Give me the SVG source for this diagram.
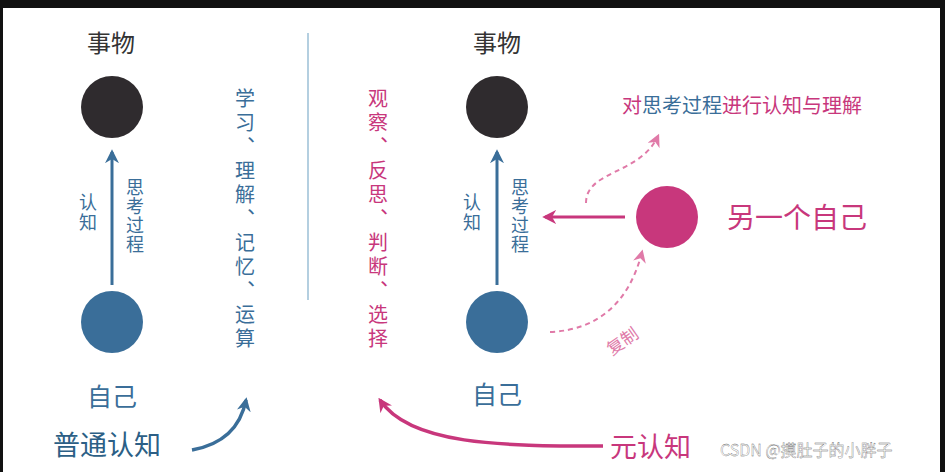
<svg xmlns="http://www.w3.org/2000/svg" width="945" height="472" viewBox="0 0 945 472">
<defs>
<style>
text{font-family:"Noto Sans CJK SC","Noto Sans",sans-serif}
.dk{fill:#333}
.bl{fill:#3a6e99}
.pk{fill:#c8377c}
.lp{fill:#e07aa8}
.vt{writing-mode:vertical-rl;font-size:20px;letter-spacing:4px}
</style>
<marker id="ab" viewBox="0 0 10 10" refX="8" refY="5" markerWidth="14" markerHeight="14" orient="auto" markerUnits="userSpaceOnUse"><path d="M0,0 L10,5 L0,10 L3,5z" fill="#3a6e99"/></marker>
<marker id="ap" viewBox="0 0 10 10" refX="8" refY="5" markerWidth="14" markerHeight="14" orient="auto" markerUnits="userSpaceOnUse"><path d="M0,0 L10,5 L0,10 L3,5z" fill="#c8377c"/></marker>
<marker id="al" viewBox="0 0 10 10" refX="8" refY="5" markerWidth="13" markerHeight="13" orient="auto" markerUnits="userSpaceOnUse"><path d="M0,0 L10,5 L0,10 L3,5z" fill="#e07aa8"/></marker>
</defs>
<rect width="945" height="472" fill="#111"/>
<rect x="3" y="8" width="937" height="464" fill="#fff"/>
<line x1="308" y1="33" x2="308" y2="300" stroke="#9bbfd6" stroke-width="1.5"/>
<g id="left-thing"><text x="111" y="52" font-size="24" text-anchor="middle" class="dk">事物</text><circle cx="112" cy="107" r="31" fill="#2f2b2e"/></g>
<g id="left-self"><circle cx="112" cy="322" r="31" fill="#3a6e99"/><text x="112" y="406" font-size="25" text-anchor="middle" class="bl">自己</text></g>
<g id="right-thing"><text x="497" y="52" font-size="24" text-anchor="middle" class="dk">事物</text><circle cx="497" cy="107" r="31" fill="#2f2b2e"/></g>
<g id="right-self"><circle cx="497" cy="322" r="31" fill="#3a6e99"/><text x="497" y="404" font-size="25" text-anchor="middle" class="bl">自己</text></g>
<g id="other-self"><circle cx="667" cy="217" r="31" fill="#c8377c"/><text x="727" y="228" font-size="28" class="pk">另一个自己</text></g>
<g id="labels">
<text x="88" y="193" class="bl vt" style="font-size:18px;letter-spacing:2px">认知</text>
<text x="135" y="178" class="bl vt" style="font-size:18px;letter-spacing:1px">思考过程</text>
<text x="472" y="193" class="bl vt" style="font-size:18px;letter-spacing:2px">认知</text>
<text x="520" y="178" class="bl vt" style="font-size:18px;letter-spacing:1px">思考过程</text>
<text x="245" y="88" class="bl vt">学习、理解、记忆、运算</text>
<text x="378" y="88" class="pk vt">观察、反思、判断、选择</text>
<text x="622" y="113" font-size="20" class="pk">对<tspan class="bl">思考过程</tspan>进行认知与理解</text>
<text x="0" y="0" font-size="17" class="lp" transform="translate(612,356) rotate(-35)">复制</text>
<text x="53" y="455" font-size="27" fill="#2c5f86">普通认知</text>
<text x="610" y="457" font-size="27" class="pk">元认知</text>
<text x="720" y="456" font-size="16" fill="#fff" stroke="#555" stroke-width="0.3">CSDN @摸肚子的小胖子</text>
</g>
<g id="connectors" fill="none">
<line x1="112" y1="285" x2="112" y2="152" stroke="#3a6e99" stroke-width="3" marker-end="url(#ab)"/>
<line x1="497" y1="285" x2="497" y2="152" stroke="#3a6e99" stroke-width="3" marker-end="url(#ab)"/>
<line x1="625" y1="217" x2="545" y2="217" stroke="#c8377c" stroke-width="3" marker-end="url(#ap)"/>
<path d="M586,203 C586,170 640,175 658,136" stroke="#e07aa8" stroke-width="2" stroke-dasharray="5,4" marker-end="url(#al)"/>
<path d="M550,332 C600,330 630,300 642,252" stroke="#e07aa8" stroke-width="2" stroke-dasharray="5,4" marker-end="url(#al)"/>
<path d="M192,450 C220,445 240,430 246,400" stroke="#3a6e99" stroke-width="3.5" marker-end="url(#ab)"/>
<path d="M603,446 C500,446 410,445 380,400" stroke="#c8377c" stroke-width="3.5" marker-end="url(#ap)"/>
</g>
</svg>
